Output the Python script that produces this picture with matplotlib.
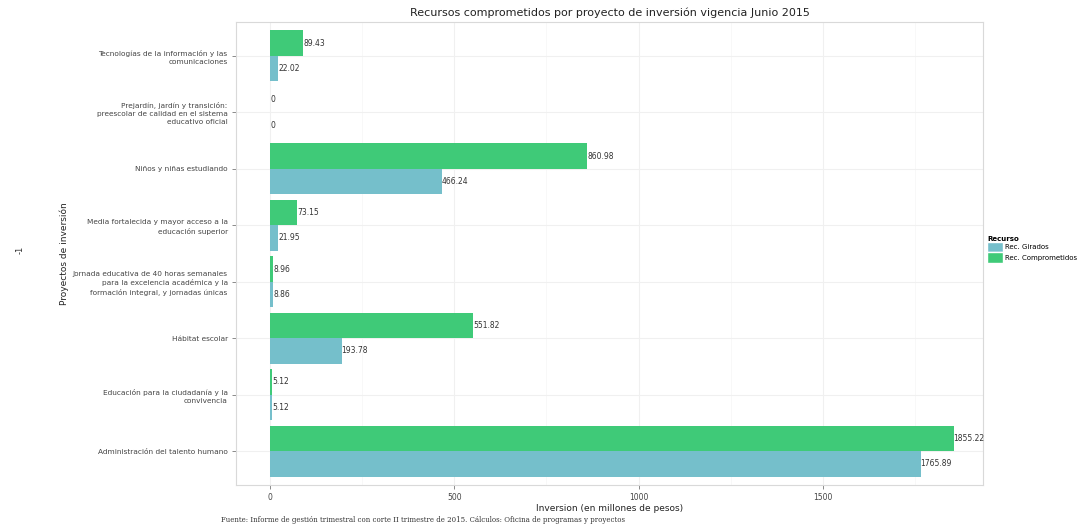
import matplotlib
matplotlib.use("Agg")
import matplotlib.pyplot as plt
import numpy as np
from matplotlib.patches import Patch

categories = [
    "Tecnologías de la información y las\ncomunicaciones",
    "Prejardín, jardín y transición:\npreescolar de calidad en el sistema\neducativo oficial",
    "Niños y niñas estudiando",
    "Media fortalecida y mayor acceso a la\neducación superior",
    "Jornada educativa de 40 horas semanales\npara la excelencia académica y la\nformación integral, y jornadas únicas",
    "Hábitat escolar",
    "Educación para la ciudadanía y la\nconvivencia",
    "Administración del talento humano",
]
comprometidos = [89.43, 0, 860.98, 73.15, 8.96, 551.82, 5.12, 1855.22]
girados = [22.02, 0, 466.24, 21.95, 8.86, 193.78, 5.12, 1765.89]
series_names = ["Rec. Girados", "Rec. Comprometidos"]
x_ticks = [0, 500, 1000, 1500]

c_green = "#3fca78"
c_blue = "#75bfcb"

fig = plt.figure(figsize=(10.91, 5.29), dpi=100)
ax = fig.add_axes([0.2163, 0.0832, 0.6847, 0.8752])

n = len(categories)
pos = np.arange(n)[::-1]  # top first
w = 0.45
ax.barh(pos + w / 2, comprometidos, height=w, color=c_green, zorder=3)
ax.barh(pos - w / 2, girados, height=w, color=c_blue, zorder=3)

for p, v in zip(pos, comprometidos):
    ax.text(v, p + w / 2, f"{v:g}" if v == 0 else f"{v:.2f}", ha="left", va="center",
            fontsize=5.5, color="#333333", zorder=4)
for p, v in zip(pos, girados):
    ax.text(v, p - w / 2, f"{v:g}" if v == 0 else f"{v:.2f}", ha="left", va="center",
            fontsize=5.5, color="#333333", zorder=4)

ax.set_ylim(-0.6, n - 1 + 0.6)
ax.set_xlim(-92.76, 1935)
ax.set_yticks(pos)
ax.set_yticklabels(categories, fontsize=5.3, color="#444444", linespacing=1.4)
ax.set_xticks(x_ticks)
ax.set_xticklabels([str(t) for t in x_ticks], fontsize=5.5, color="#444444")
ax.set_xticks([250, 750, 1250, 1750], minor=True)
ax.tick_params(axis="both", which="major", length=3, width=0.6, color="#777777", pad=3)
ax.tick_params(axis="x", which="minor", length=0)

ax.grid(True, which="major", color="#f0f0f0", linewidth=0.8, zorder=0)
ax.grid(True, which="minor", axis="x", color="#f7f7f7", linewidth=0.6, zorder=0)
ax.set_axisbelow(True)
for s in ax.spines.values():
    s.set_color("#d9d9d9")
    s.set_linewidth(0.8)

ax.set_title("Recursos comprometidos por proyecto de inversión vigencia Junio 2015",
             fontsize=8, color="#222222", pad=4)
ax.set_xlabel("Inversion (en millones de pesos)", fontsize=6.5, color="#222222", labelpad=1)
ax.set_ylabel("Proyectos de inversión", fontsize=6.5, color="#222222")
ax.yaxis.set_label_coords(-0.2236, 0.5)

fig.text(0.018, 0.527, "-1", rotation=90, fontsize=6, color="#333333", ha="center", va="center")

handles = [Patch(facecolor=c_blue, edgecolor="white"), Patch(facecolor=c_green, edgecolor="white")]
leg = fig.legend(handles, series_names, loc="upper left", bbox_to_anchor=(0.900, 0.565),
                 frameon=False, fontsize=5, title="Recurso", title_fontsize=5,
                 handlelength=2.2, handleheight=2.0, handletextpad=0.3, labelspacing=0.0,
                 alignment="left", borderpad=0.3)
leg.get_title().set_fontweight("bold")

fig.text(0.203, 0.017,
         "Fuente: Informe de gestión trimestral con corte II trimestre de 2015. Cálculos: Oficina de programas y proyectos",
         fontsize=5.05, family="DejaVu Serif", color="#333333", ha="left", va="center")

fig.savefig("out.png", dpi=100)
